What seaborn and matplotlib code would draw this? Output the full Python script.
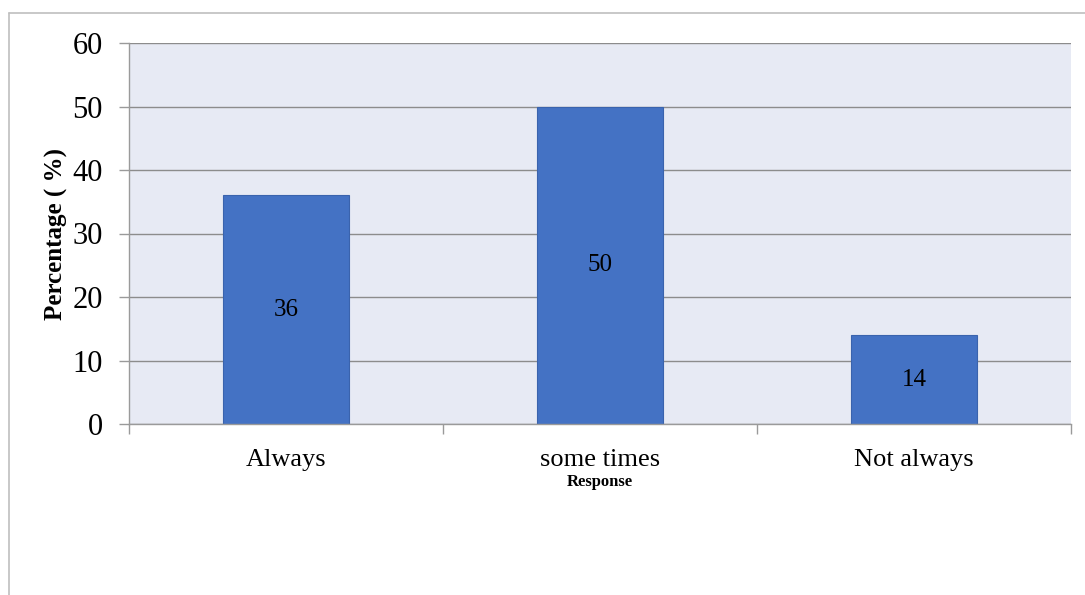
import matplotlib
matplotlib.use('Agg')
import matplotlib.pyplot as plt
import seaborn as sns
import pandas as pd
from matplotlib.lines import Line2D
from matplotlib.ticker import FixedLocator

categories = ["Always", "some times", "Not always"]
percentages = [36, 50, 14]
y_ticks = [0, 10, 20, 30, 40, 50, 60]

sns.set_style("white")
plt.rcParams['font.family'] = ['Liberation Serif', 'DejaVu Serif']
plt.rcParams['text.color'] = 'black'
plt.rcParams['xtick.color'] = 'black'
plt.rcParams['ytick.color'] = 'black'
plt.rcParams['axes.labelcolor'] = 'black'

W, H = 1085, 595
fig = plt.figure(figsize=(W / 100, H / 100), dpi=100)
fig.patch.set_facecolor("white")
ax = fig.add_axes([129 / W, 1 - 424 / H, (1071 - 129) / W, (424 - 43) / H])

df = pd.DataFrame({"Response": categories, "Percentage": percentages})
sns.barplot(data=df, x="Response", y="Percentage", ax=ax, color="#4472C4",
            width=0.4, edgecolor="#3A63AD", linewidth=0.8, saturation=1)

ax.set_facecolor("#E7EAF4")
ax.set_ylim(0, 60)
ax.set_xlim(-0.5, 2.5)
ax.set_yticks(y_ticks)
ax.yaxis.grid(True, color="#8C8C8C", linewidth=1)
ax.xaxis.grid(False)
ax.set_axisbelow(True)

for s in ["top", "right"]:
    ax.spines[s].set_visible(False)
for s in ["left", "bottom"]:
    ax.spines[s].set_color("#9A9A9A")
    ax.spines[s].set_linewidth(1)

ax.tick_params(axis="y", which="major", length=7, width=1, color="#9A9A9A",
               direction="out", labelsize=22, pad=12, left=True, labelcolor="black")
ax.tick_params(axis="x", which="major", length=0, labelsize=19, pad=18, labelcolor="black")
ax.xaxis.set_minor_locator(FixedLocator([-0.5, 0.5, 1.5, 2.5]))
ax.tick_params(axis="x", which="minor", length=7, width=1, color="#9A9A9A",
               direction="out", bottom=True)

ax.bar_label(ax.containers[0], label_type="center", fontsize=18, color="black")

ax.set_ylabel("Percentage ( %)", fontsize=18, fontweight="bold", labelpad=3, color="black")
ax.set_xlabel("Response", fontsize=12, fontweight="bold", labelpad=2, color="black")

# outer chart frame (top and left edges)
fig.add_artist(Line2D([9 / W, 1], [1 - 13 / H, 1 - 13 / H], transform=fig.transFigure,
                      color="#BFBFBF", linewidth=1.2))
fig.add_artist(Line2D([9 / W, 9 / W], [0, 1 - 13 / H], transform=fig.transFigure,
                      color="#BFBFBF", linewidth=1.2))

fig.savefig("out.png", dpi=100, facecolor="white")
